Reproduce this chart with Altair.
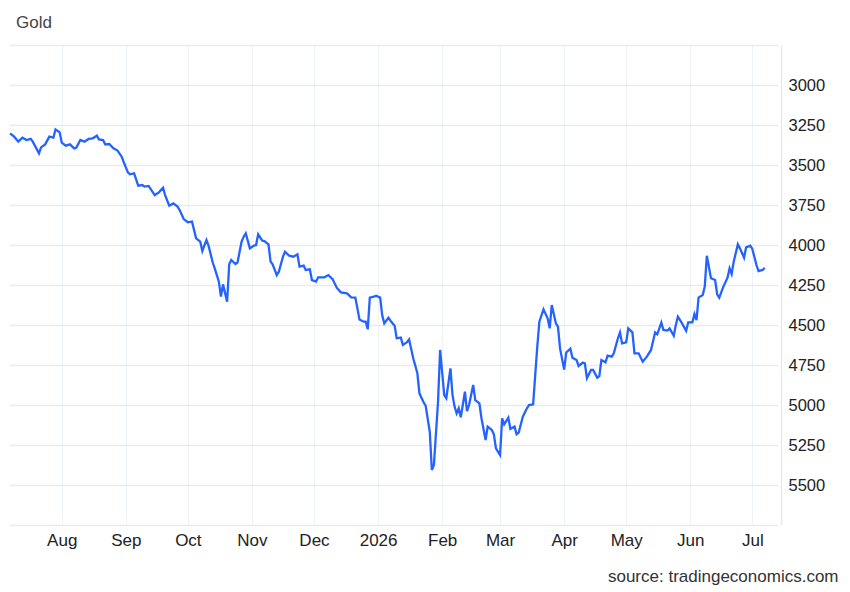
import altair as alt
import pandas as pd

dates = [
    "2025-07-07", "2025-07-09", "2025-07-11", "2025-07-13", "2025-07-15", "2025-07-17", "2025-07-18",
    "2025-07-21", "2025-07-22", "2025-07-24", "2025-07-26", "2025-07-28", "2025-07-29", "2025-07-31",
    "2025-08-01", "2025-08-03", "2025-08-05", "2025-08-07", "2025-08-08", "2025-08-10", "2025-08-12",
    "2025-08-14", "2025-08-16", "2025-08-18", "2025-08-19", "2025-08-21", "2025-08-22", "2025-08-24",
    "2025-08-26", "2025-08-28", "2025-08-30", "2025-08-31", "2025-09-02", "2025-09-03", "2025-09-05",
    "2025-09-07", "2025-09-09", "2025-09-10", "2025-09-12", "2025-09-15", "2025-09-17", "2025-09-19",
    "2025-09-20", "2025-09-22", "2025-09-24", "2025-09-26", "2025-09-27", "2025-09-29", "2025-10-01",
    "2025-10-03", "2025-10-05", "2025-10-07", "2025-10-08", "2025-10-10", "2025-10-11", "2025-10-13",
    "2025-10-14", "2025-10-16", "2025-10-17", "2025-10-18", "2025-10-20", "2025-10-21", "2025-10-22",
    "2025-10-24", "2025-10-25", "2025-10-27", "2025-10-28", "2025-10-29", "2025-10-31", "2025-11-02",
    "2025-11-03", "2025-11-04", "2025-11-06", "2025-11-07", "2025-11-09", "2025-11-10", "2025-11-11",
    "2025-11-13", "2025-11-14", "2025-11-16", "2025-11-17", "2025-11-19", "2025-11-21", "2025-11-23",
    "2025-11-24", "2025-11-26", "2025-11-27", "2025-11-29", "2025-11-30", "2025-12-02", "2025-12-03",
    "2025-12-06", "2025-12-08", "2025-12-10", "2025-12-12", "2025-12-14", "2025-12-17", "2025-12-19",
    "2025-12-21", "2025-12-22", "2025-12-23", "2025-12-25", "2025-12-26", "2025-12-27", "2025-12-28",
    "2025-12-30", "2025-12-31", "2026-01-02", "2026-01-03", "2026-01-04", "2026-01-06", "2026-01-07",
    "2026-01-09", "2026-01-10", "2026-01-12", "2026-01-13", "2026-01-15", "2026-01-16", "2026-01-18",
    "2026-01-20", "2026-01-21", "2026-01-23", "2026-01-24", "2026-01-26", "2026-01-27", "2026-01-28",
    "2026-01-30", "2026-01-31", "2026-02-02", "2026-02-03", "2026-02-05", "2026-02-06", "2026-02-07",
    "2026-02-08", "2026-02-09", "2026-02-10", "2026-02-12", "2026-02-13", "2026-02-14", "2026-02-16",
    "2026-02-17", "2026-02-19", "2026-02-20", "2026-02-22", "2026-02-23", "2026-02-25", "2026-02-26",
    "2026-02-27", "2026-03-01", "2026-03-02", "2026-03-03", "2026-03-05", "2026-03-06", "2026-03-08",
    "2026-03-09", "2026-03-10", "2026-03-12", "2026-03-14", "2026-03-15", "2026-03-17", "2026-03-18",
    "2026-03-19", "2026-03-20", "2026-03-22", "2026-03-24", "2026-03-25", "2026-03-26", "2026-03-28",
    "2026-03-29", "2026-03-30", "2026-04-01", "2026-04-02", "2026-04-04", "2026-04-05", "2026-04-07",
    "2026-04-08", "2026-04-10", "2026-04-11", "2026-04-12", "2026-04-14", "2026-04-15", "2026-04-17",
    "2026-04-18", "2026-04-19", "2026-04-21", "2026-04-22", "2026-04-24", "2026-04-25", "2026-04-27",
    "2026-04-28", "2026-04-29", "2026-05-01", "2026-05-02", "2026-05-04", "2026-05-05", "2026-05-07",
    "2026-05-09", "2026-05-11", "2026-05-13", "2026-05-15", "2026-05-16", "2026-05-18", "2026-05-19",
    "2026-05-21", "2026-05-22", "2026-05-24", "2026-05-25", "2026-05-26", "2026-05-28", "2026-05-30",
    "2026-05-31", "2026-06-02", "2026-06-03", "2026-06-04", "2026-06-05", "2026-06-07", "2026-06-08",
    "2026-06-09", "2026-06-11", "2026-06-13", "2026-06-14", "2026-06-15", "2026-06-17", "2026-06-19",
    "2026-06-20", "2026-06-21", "2026-06-22", "2026-06-24", "2026-06-25", "2026-06-27", "2026-06-28",
    "2026-06-30", "2026-07-01", "2026-07-03", "2026-07-04", "2026-07-06", "2026-07-07",
]

prices = [
    3302, 3323, 3354, 3329, 3344, 3337, 3354,
    3427, 3390, 3371, 3323, 3329, 3277, 3296,
    3360, 3379, 3371, 3396, 3392, 3344, 3354,
    3337, 3333, 3317, 3340, 3344, 3371, 3369,
    3396, 3410, 3448, 3483, 3546, 3558, 3552,
    3629, 3625, 3635, 3631, 3688, 3671, 3642,
    3688, 3754, 3740, 3760, 3781, 3838, 3858,
    3854, 3958, 3979, 4037, 3969, 4004, 4108,
    4146, 4229, 4323, 4246, 4354, 4121, 4094,
    4119, 4110, 3979, 3948, 3927, 4021, 4004,
    4000, 3933, 3973, 3975, 3996, 4104, 4121,
    4188, 4167, 4073, 4042, 4067, 4073, 4058,
    4135, 4129, 4156, 4152, 4219, 4229, 4202,
    4202, 4188, 4213, 4267, 4296, 4302, 4327,
    4329, 4396, 4465, 4479, 4479, 4527, 4329,
    4323, 4317, 4329, 4440, 4490, 4455, 4473,
    4504, 4583, 4579, 4625, 4608, 4590, 4708,
    4802, 4927, 4983, 5004, 5167, 5406, 5375,
    4979, 4656, 4938, 4958, 4771, 4938, 5010,
    5052, 5021, 5077, 4917, 5038, 5000, 4875,
    4969, 4990, 5083, 5219, 5135, 5156, 5183,
    5271, 5313, 5083, 5121, 5079, 5150, 5135,
    5183, 5173, 5073, 5021, 5000, 4996, 4813,
    4635, 4479, 4402, 4458, 4521, 4375, 4490,
    4510, 4646, 4779, 4672, 4648, 4704, 4719,
    4756, 4735, 4740, 4833, 4781, 4781, 4829,
    4819, 4719, 4733, 4692, 4698, 4677, 4583,
    4546, 4615, 4608, 4521, 4546, 4677, 4677,
    4729, 4698, 4656, 4546, 4558, 4485, 4531,
    4535, 4521, 4567, 4500, 4448, 4490, 4537,
    4483, 4483, 4431, 4469, 4329, 4313, 4260,
    4067, 4208, 4219, 4308, 4329, 4260, 4204,
    4146, 4181, 4104, 3996, 4021, 4079, 4015,
    4004, 4025, 4125, 4163, 4156, 4142,
]

# month ticks (1st of each month) and their labels
tick_months = [(2025, 8), (2025, 9), (2025, 10), (2025, 11), (2025, 12), (2026, 1),
               (2026, 2), (2026, 3), (2026, 4), (2026, 5), (2026, 6), (2026, 7)]
tick_labels = ["Aug", "Sep", "Oct", "Nov", "Dec", "2026", "Feb", "Mar", "Apr", "May", "Jun", "Jul"]

y_ticks = [2750, 3000, 3250, 3500, 3750, 4000, 4250, 4500, 4750, 5000, 5250, 5500, 5750]
y_labeled = [3000, 3250, 3500, 3750, 4000, 4250, 4500, 4750, 5000, 5250, 5500]

df = pd.DataFrame({"date": dates, "price": prices})

FONT = "Liberation Sans"

x_values = [alt.DateTime(year=y, month=m, date=1, utc=True) for (y, m) in tick_months]
label_map = "{" + ",".join(
    f"'{y}-{m}':'{lab}'" for (y, m), lab in zip(tick_months, tick_labels)
) + "}"
x_label_expr = (
    f"{label_map}[utcyear(datum.value) + '-' + (utcmonth(datum.value) + 1)]"
)
y_label_expr = "indexof([" + ",".join(str(v) for v in y_labeled) + "], datum.value) >= 0 ? datum.value + '' : ''"

chart = (
    alt.Chart(df)
    .mark_line(color="#2563ff", strokeWidth=2.3)
    .encode(
        x=alt.X(
            "date:T",
            scale=alt.Scale(
                type="utc",
                domain=[
                    alt.DateTime(year=2025, month=7, date=6, hours=12, utc=True),
                    alt.DateTime(year=2026, month=7, date=13, hours=10, utc=True),
                ],
            ),
            axis=alt.Axis(
                values=x_values,
                labelExpr=x_label_expr,
                title="source: tradingeconomics.com",
                titleX=829,
                titleY=51,
                titleAlign="right",
                titleBaseline="middle",
                titleAnchor="end",
                titleFontSize=17,
                titleFontWeight="normal",
                titleColor="#333333",
                titleFont=FONT,
                domain=False,
                ticks=False,
                grid=True,
                gridColor="#eef3f6",
                gridWidth=1,
                labelFontSize=17,
                labelFont=FONT,
                labelColor="#222222",
                labelPadding=7,
            ),
        ),
        y=alt.Y(
            "price:Q",
            scale=alt.Scale(domain=[2750, 5750], reverse=True, nice=False, zero=False),
            axis=alt.Axis(
                orient="right",
                values=y_ticks,
                labelExpr=y_label_expr,
                title=None,
                offset=3,
                domain=True,
                domainColor="#ebebeb",
                domainWidth=1.5,
                ticks=False,
                grid=True,
                gridColor="#ebebeb",
                gridWidth=1.5,
                labelFontSize=16.5,
                labelFont=FONT,
                labelColor="#222222",
                labelPadding=7,
                labelAlign="left",
            ),
        ),
    )
    .properties(
        width=769,
        height=480,
        autosize=alt.AutoSizeParams(type="none"),
        padding={"left": 1, "top": 37, "right": 64, "bottom": 62},
        title=alt.TitleParams(
            "Gold",
            anchor="start",
            frame="group",
            fontSize=17,
            font=FONT,
            fontWeight="normal",
            color="#444444",
            dx=7,
            offset=13,
        ),
    )
    .configure_view(stroke="transparent", strokeWidth=0, strokeOpacity=0)
    .configure(background="white", style={"cell": {"stroke": "transparent", "strokeWidth": 0}})
)

chart.save("out.html", embed_options={"renderer": "svg", "actions": False})
